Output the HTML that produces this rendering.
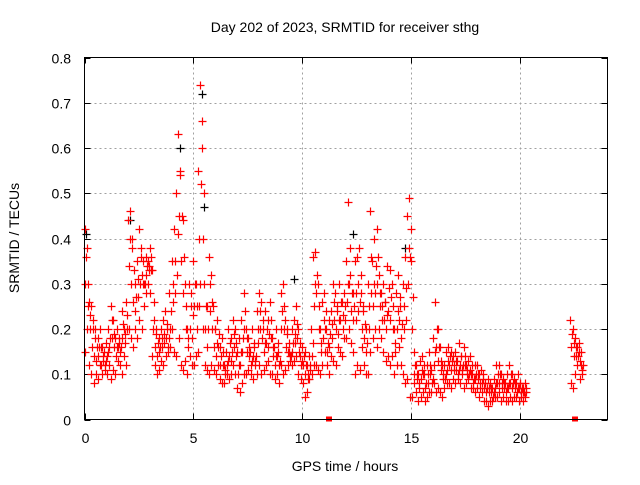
<!DOCTYPE html>
<html><head><meta charset="utf-8"><style>
body{margin:0;background:#fff;}
svg text{font-family:"Liberation Sans",sans-serif;fill:#000;}
</style></head><body>
<svg id="chart" width="640" height="480" xmlns="http://www.w3.org/2000/svg">
<rect width="640" height="480" fill="#fff"/>
<text x="345" y="32" font-size="14" text-anchor="middle">Day 202 of 2023, SRMTID for receiver sthg</text>
<text x="345" y="471" font-size="14" text-anchor="middle">GPS time / hours</text>
<text transform="translate(19,238) rotate(-90)" font-size="14" text-anchor="middle">SRMTID / TECUs</text>
<g id="grid"></g><g id="axes"></g><g id="marks"></g>
<rect x="84.5" y="57.5" width="523" height="362" fill="none" stroke="#000" stroke-width="1"/>
</svg>
<script>
const xTicks=[0,5,10,15,20];
const yTicks=[0,0.1,0.2,0.3,0.4,0.5,0.6,0.7,0.8];
const yTickLabels=["0","0.1","0.2","0.3","0.4","0.5","0.6","0.7","0.8"];
const times=[0.0,0.1,0.2,0.3,0.4,0.5,0.6,0.7,0.8,0.9,1.0,1.1,1.2,1.3,1.4,1.5,1.6,1.7,1.8,1.9,2.0,2.1,2.2,2.3,2.4,2.5,2.6,2.7,2.8,2.9,3.0,3.1,3.2,3.3,3.4,3.5,3.6,3.7,3.8,3.9,4.0,4.1,4.2,4.3,4.4,4.5,4.6,4.7,4.8,4.9,5.0,5.1,5.2,5.3,5.4,5.5,5.6,5.7,5.8,5.9,6.0,6.1,6.2,6.3,6.4,6.5,6.6,6.7,6.8,6.9,7.0,7.1,7.2,7.3,7.4,7.5,7.6,7.7,7.8,7.9,8.0,8.1,8.2,8.3,8.4,8.5,8.6,8.7,8.8,8.9,9.0,9.1,9.2,9.3,9.4,9.5,9.6,9.7,9.8,9.9,10.0,10.1,10.2,10.3,10.4,10.5,10.6,10.7,10.8,10.9,11.0,11.1,11.2,11.3,11.4,11.5,11.6,11.7,11.8,11.9,12.0,12.1,12.2,12.3,12.4,12.5,12.6,12.7,12.8,12.9,13.0,13.1,13.2,13.3,13.4,13.5,13.6,13.7,13.8,13.9,14.0,14.1,14.2,14.3,14.4,14.5,14.6,14.7,14.8,14.9,15.0,15.1,15.2,15.3,15.4,15.5,15.6,15.7,15.8,15.9,16.0,16.1,16.2,16.3,16.4,16.5,16.6,16.7,16.8,16.9,17.0,17.1,17.2,17.3,17.4,17.5,17.6,17.7,17.8,17.9,18.0,18.1,18.2,18.3,18.4,18.5,18.6,18.7,18.8,18.9,19.0,19.1,19.2,19.3,19.4,19.5,19.6,19.7,19.8,19.9,20.0,20.1,20.2,22.3,22.4,22.5,22.6,22.7,22.8];
const redHi=[0.42,0.38,0.26,0.25,0.22,0.2,0.18,0.2,0.16,0.15, 0.17,0.2,0.25,0.22,0.18,0.2,0.17,0.24,0.2,0.26, 0.44,0.46,0.4,0.3,0.35,0.42,0.38,0.3,0.36,0.35, 0.38,0.33,0.22,0.2,0.18,0.2,0.22,0.24,0.2,0.28, 0.35,0.42,0.5,0.63,0.55,0.44,0.3,0.2,0.3,0.28, 0.35,0.3,0.55,0.74,0.6,0.3,0.25,0.36,0.32,0.25, 0.2,0.22,0.16,0.18,0.12,0.15,0.2,0.18,0.22,0.2, 0.15,0.18,0.22,0.28,0.2,0.18,0.15,0.2,0.16,0.24, 0.28,0.26,0.2,0.24,0.22,0.26,0.18,0.16,0.2,0.15, 0.28,0.3,0.22,0.2,0.15,0.2,0.22,0.25,0.2,0.14, 0.16,0.15,0.12,0.14,0.2,0.36,0.37,0.3,0.2,0.26, 0.28,0.2,0.22,0.24,0.3,0.28,0.25,0.3,0.26,0.28, 0.35,0.48,0.32,0.28,0.35,0.36,0.38,0.28,0.25,0.2, 0.3,0.46,0.35,0.4,0.42,0.32,0.28,0.3,0.26,0.34, 0.33,0.3,0.2,0.28,0.32,0.25,0.3,0.36,0.45,0.49, 0.35,0.15,0.12,0.1,0.13,0.14,0.1,0.12,0.15,0.11, 0.18,0.26,0.2,0.16,0.12,0.12,0.15,0.16,0.15,0.14, 0.15,0.13,0.17,0.14,0.16,0.12,0.13,0.14,0.1,0.12, 0.12,0.1,0.11,0.1,0.08,0.09,0.08,0.07,0.09,0.12, 0.12,0.1,0.09,0.08,0.1,0.12,0.1,0.09,0.08,0.1, 0.08,0.07,0.08, 0.22,0.2,0.18,0.16,0.17,0.12];
const redUpper=[0.36,0.3,0.23,0.2,0.18,0.16,0.16,0.16,0.14,0.13, 0.15,0.18,0.22,0.19,0.16,0.18,0.16,0.21,0.19,0.23, 0.4,0.38,0.33,0.27,0.31,0.36,0.35,0.3,0.34,0.34, 0.36,0.26,0.19,0.17,0.16,0.18,0.19,0.21,0.18,0.24, 0.3,0.35,0.41,0.54,0.45,0.36,0.25,0.18,0.25,0.23, 0.3,0.25,0.4,0.66,0.5,0.25,0.2,0.3,0.26,0.2, 0.17,0.19,0.14,0.15,0.11,0.13,0.17,0.15,0.19,0.17, 0.12,0.15,0.18,0.24,0.18,0.16,0.13,0.17,0.14,0.2, 0.24,0.22,0.17,0.2,0.19,0.22,0.16,0.14,0.17,0.13, 0.24,0.25,0.19,0.17,0.14,0.17,0.19,0.21,0.17,0.13, 0.14,0.12,0.1,0.12,0.17,0.3,0.32,0.25,0.17,0.22, 0.24,0.17,0.19,0.21,0.26,0.24,0.22,0.26,0.23,0.25, 0.3,0.38,0.28,0.25,0.28,0.3,0.32,0.24,0.21,0.17, 0.25,0.36,0.3,0.34,0.36,0.28,0.25,0.26,0.23,0.29, 0.27,0.25,0.17,0.24,0.27,0.21,0.25,0.29,0.38,0.42, 0.27,0.12,0.1,0.08,0.11,0.12,0.08,0.1,0.12,0.09, 0.15,0.2,0.16,0.13,0.1,0.1,0.13,0.14,0.13,0.12, 0.13,0.11,0.14,0.12,0.14,0.11,0.11,0.12,0.09,0.1, 0.1,0.08,0.09,0.08,0.07,0.07,0.07,0.06,0.08,0.1, 0.1,0.08,0.08,0.07,0.08,0.1,0.08,0.08,0.07,0.08, 0.07,0.06,0.07, 0.19,0.17,0.16,0.15,0.15,0.12];
const redMid=[0.3,0.25,0.2,0.16,0.14,0.13,0.14,0.12,0.13,0.12, 0.14,0.16,0.18,0.16,0.14,0.16,0.15,0.18,0.17,0.2, 0.34,0.3,0.26,0.24,0.27,0.3,0.32,0.3,0.32,0.33, 0.33,0.2,0.16,0.14,0.15,0.16,0.17,0.18,0.16,0.2, 0.26,0.28,0.32,0.45,0.35,0.28,0.2,0.16,0.2,0.18, 0.25,0.2,0.25,0.52,0.4,0.2,0.16,0.24,0.2,0.16, 0.14,0.16,0.12,0.12,0.1,0.12,0.14,0.13,0.16,0.14, 0.1,0.12,0.15,0.2,0.15,0.14,0.12,0.14,0.13,0.17, 0.2,0.18,0.15,0.17,0.16,0.18,0.14,0.12,0.14,0.12, 0.2,0.2,0.16,0.15,0.13,0.15,0.17,0.18,0.15,0.12, 0.12,0.1,0.09,0.11,0.14,0.25,0.28,0.2,0.15,0.18, 0.2,0.15,0.16,0.18,0.22,0.2,0.19,0.22,0.2,0.22, 0.26,0.3,0.24,0.22,0.22,0.24,0.26,0.2,0.18,0.15, 0.2,0.28,0.25,0.28,0.3,0.25,0.22,0.22,0.2,0.24, 0.22,0.2,0.15,0.2,0.22,0.18,0.2,0.22,0.3,0.36, 0.2,0.1,0.09,0.07,0.09,0.1,0.07,0.08,0.1,0.08, 0.12,0.16,0.13,0.11,0.09,0.09,0.11,0.12,0.11,0.11, 0.11,0.1,0.12,0.11,0.12,0.1,0.1,0.1,0.08,0.09, 0.09,0.07,0.08,0.07,0.06,0.06,0.06,0.05,0.07,0.08, 0.08,0.07,0.07,0.06,0.07,0.08,0.07,0.07,0.06,0.07, 0.06,0.06,0.06, 0.16,0.14,0.14,0.14,0.13,0.11];
const redLo=[0.15,0.2,0.12,0.1,0.08,0.1,0.09,0.12,0.1,0.11, 0.1,0.12,0.09,0.11,0.1,0.13,0.12,0.1,0.14,0.12, 0.2,0.18,0.16,0.2,0.18,0.22,0.2,0.25,0.28,0.3, 0.28,0.14,0.12,0.1,0.11,0.13,0.12,0.14,0.15,0.16, 0.2,0.15,0.14,0.18,0.12,0.11,0.13,0.1,0.14,0.12, 0.12,0.14,0.15,0.3,0.2,0.12,0.11,0.1,0.12,0.11, 0.1,0.12,0.09,0.08,0.08,0.1,0.09,0.1,0.12,0.1, 0.07,0.06,0.08,0.1,0.1,0.11,0.1,0.09,0.12,0.1, 0.12,0.1,0.11,0.12,0.13,0.1,0.1,0.09,0.1,0.08, 0.12,0.1,0.11,0.12,0.14,0.12,0.13,0.14,0.1,0.09, 0.08,0.05,0.06,0.09,0.1,0.12,0.12,0.11,0.1,0.12, 0.15,0.12,0.1,0.14,0.13,0.12,0.16,0.15,0.14,0.18, 0.18,0.2,0.17,0.15,0.1,0.12,0.11,0.16,0.12,0.1, 0.1,0.15,0.18,0.2,0.16,0.2,0.18,0.15,0.13,0.14, 0.12,0.14,0.1,0.12,0.16,0.12,0.1,0.08,0.09,0.05, 0.05,0.08,0.06,0.04,0.05,0.06,0.04,0.05,0.06,0.06, 0.08,0.06,0.07,0.06,0.05,0.07,0.08,0.08,0.07,0.09, 0.08,0.09,0.08,0.1,0.07,0.08,0.09,0.07,0.07,0.06, 0.07,0.05,0.06,0.04,0.04,0.03,0.04,0.04,0.05,0.05, 0.06,0.04,0.05,0.04,0.04,0.05,0.04,0.05,0.05,0.04, 0.05,0.04,0.05, 0.08,0.07,0.1,0.12,0.09,0.1];
const blackT=[0.05,2.1,4.4,5.4,5.5,9.6,12.3,14.7];
const blackV=[0.41,0.44,0.6,0.72,0.47,0.31,0.41,0.38];
const zeroT=[11.2,22.5];

const X0=84.5,X1=607.5,Y0=419.5,Y1=57.5,XMAX=24,YMAX=0.8;
const sx=v=>X0+(X1-X0)*v/XMAX;
const sy=v=>Y0-(Y0-Y1)*v/YMAX;
const NS="http://www.w3.org/2000/svg";
const mk=(tag,attrs,parent)=>{const e=document.createElementNS(NS,tag);for(const k in attrs)e.setAttribute(k,attrs[k]);parent.appendChild(e);return e;};
const grid=document.getElementById('grid'),axes=document.getElementById('axes'),marks=document.getElementById('marks');
xTicks.forEach(t=>{
  const x=Math.round(sx(t))+0.5;
  if(t>0){const g=mk('line',{x1:x,x2:x,y1:Y1,y2:Y0,stroke:'#a0a0a0','stroke-dasharray':'2,3'},grid);
  
  }
  mk('line',{x1:x,x2:x,y1:Y0,y2:Y0-6,stroke:'#000'},axes);
  mk('line',{x1:x,x2:x,y1:Y1,y2:Y1+6,stroke:'#000'},axes);
  const l=mk('text',{x:x,y:443,'font-size':'14','text-anchor':'middle'},axes);l.textContent=t;
  
  
});
yTicks.forEach((t,i)=>{
  const y=Math.round(sy(t))+0.5;
  if(t>0&&t<YMAX){const g=mk('line',{x1:X0,x2:X1,y1:y,y2:y,stroke:'#a0a0a0','stroke-dasharray':'2,3'},grid);
  
  }
  mk('line',{x1:X0,x2:X0+6,y1:y,y2:y,stroke:'#000'},axes);
  mk('line',{x1:X1,x2:X1-6,y1:y,y2:y,stroke:'#000'},axes);
  const l=mk('text',{x:71,y:y+5,'font-size':'14','text-anchor':'end'},axes);l.textContent=yTickLabels[i];
  
  
});
function plus(t,v,col,name){
  const x=Math.round(sx(t))+0.5,y=Math.round(sy(v))+0.5;
  const p=mk('path',{d:`M${x-4} ${y}H${x+4}M${x} ${y-4}V${y+4}`,stroke:col,'stroke-width':'1.2',fill:'none'},marks);
  
  
}
blackT.forEach((t,i)=>plus(t,blackV[i],'#000','black-point'));
times.forEach((t,i)=>{
  plus(t,redHi[i],'#f00','red-point');
  plus(t+0.07,redUpper[i],'#f00','red-point');
  plus(t+0.04,redMid[i],'#f00','red-point');
  plus(t+0.02,redLo[i],'#f00','red-point');
});
zeroT.forEach(t=>{
  const r=mk('rect',{x:Math.round(sx(t))-3,y:Y0-3,width:6,height:5,fill:'#f00'},marks);
  
  
});
</script>
</body></html>
